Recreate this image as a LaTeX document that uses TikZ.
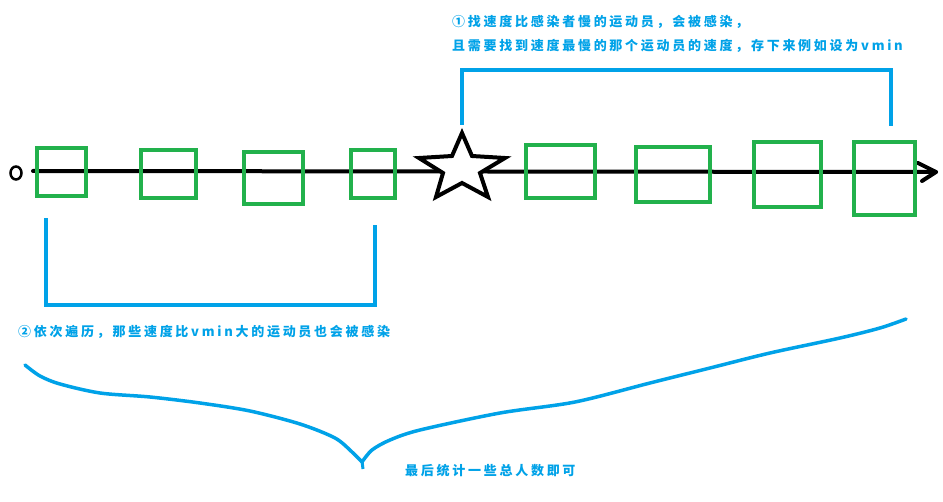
\documentclass[tikz,border=0pt]{standalone}
\usepackage{fontspec}
\usetikzlibrary{arrows.meta,shapes.geometric}
\newfontfamily\cjk[LetterSpace=21]{Noto Sans CJK SC}
\definecolor{paintblue}{RGB}{0,162,232}
\definecolor{paintgreen}{RGB}{34,177,76}
\tikzset{
  box/.style={draw=paintgreen, line width=4pt, inner sep=0pt, rectangle},
  bracket/.style={draw=paintblue, line width=4pt, line cap=rect},
  note/.style={text=paintblue, font=\cjk\bfseries\fontsize{13}{15}\selectfont, inner sep=0pt, anchor=west},
  axis/.style={draw=black, line width=4pt, line cap=round, line join=round}
}
\begin{document}
\begin{tikzpicture}[x=1pt,y=-1pt]
\useasboundingbox[fill=white] (0,0) rectangle (943,502);
% zero mark
\node[draw=black, line width=2.5pt, ellipse, minimum width=11pt, minimum height=13pt, inner sep=0pt] (zero) at (16,173) {};
\coordinate (start) at (33,171);
\coordinate (tip) at (936,172);
\coordinate (barbA) at (918,163);
\coordinate (barbB) at (922,181);
\draw[axis] (start) -- (tip);
\draw[axis] (barbA) -- (tip) -- (barbB);
% boxes
\node[box, minimum width=49pt, minimum height=48pt] (b1) at (61.5,172) {};
\node[box, minimum width=55pt, minimum height=48pt] (b2) at (168.5,174) {};
\node[box, minimum width=59pt, minimum height=52pt] (b3) at (273.5,178) {};
\node[box, minimum width=44pt, minimum height=48pt] (b4) at (373,174) {};
\node[box, minimum width=69pt, minimum height=53pt] (b5) at (560.5,171.5) {};
\node[box, minimum width=74pt, minimum height=55pt] (b6) at (673,174.5) {};
\node[box, minimum width=67pt, minimum height=65pt] (b7) at (787.5,174.5) {};
\node[box, minimum width=61pt, minimum height=73pt] (b8) at (884.5,178.5) {};
% star
\draw[axis, line join=miter, fill=white] (462,133) -- (472,156) -- (505,158) -- (480,173) -- (488,197)
  -- (462,183) -- (436,197) -- (443,173) -- (419,158) -- (452,156) -- cycle;
% top bracket
\coordinate (t1) at (462,123);
\coordinate (t2) at (462,70);
\coordinate (t3) at (891,70);
\coordinate (t4) at (891,124);
\draw[bracket] (t1) -- (t2) -- (t3) -- (t4);
% bottom bracket
\coordinate (u1) at (46,220);
\coordinate (u2) at (46,305);
\coordinate (u3) at (375,305);
\coordinate (u4) at (375,227);
\draw[bracket] (u1) -- (u2) -- (u3) -- (u4);
% texts
\node[note] (n1) at (452,22) {①找速度比感染者慢的运动员，会被感染，};
\node[note] (n2) at (452,46) {且需要找到速度最慢的那个运动员的速度，存下来例如设为vmin};
\node[note] (n3) at (18,332) {②依次遍历，那些速度比vmin大的运动员也会被感染};
\node[note] (n4) at (405,471) {最后统计一些总人数即可};
% brace
\draw[draw=paintblue, line width=3.5pt, line cap=round, line join=round]
  plot[smooth, tension=0.5] coordinates {(25,365) (40,376) (60,384) (100,393) (150,397) (200,403) (250,411) (300,424) (335,438) (352,452) (362,462)};
\draw[draw=paintblue, line width=3.5pt, line cap=round, line join=round]
  plot[smooth, tension=0.5] coordinates {(362,462) (372,450) (390,440) (420,430) (500,413) (575,402) (650,383) (710,368) (770,353) (840,338) (880,328) (906,319)};
\draw[draw=paintblue, line width=3pt] (362,461) -- (363,469);
\end{tikzpicture}
\end{document}
